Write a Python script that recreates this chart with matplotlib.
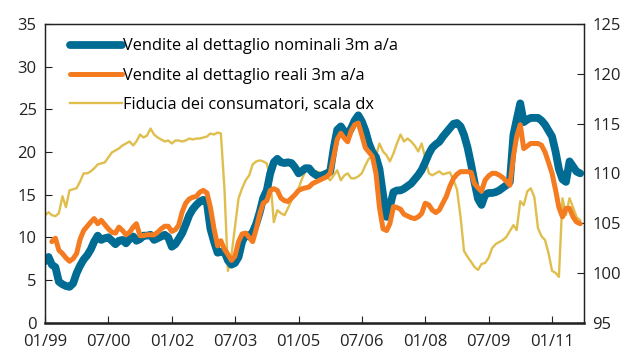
import numpy as np
import pandas as pd
import matplotlib
matplotlib.use("Agg")
import matplotlib.pyplot as plt
import matplotlib.dates as mdates

plt.rcParams['font.family'] = ['Open Sans', 'DejaVu Sans']

# Monthly series, January 1999 - September 2011
dates = pd.date_range("1999-01-01", periods=153, freq="MS")

nominal = [
    7.2, 7.7, 6.8, 6.5, 4.8, 4.5, 4.3, 4.2, 4.6, 5.8, 6.7, 7.4, 7.9, 8.6, 9.5, 10.2,
    9.7, 9.9, 10.0, 9.6, 9.2, 9.6, 9.7, 9.3, 9.8, 10.1, 9.6, 9.8, 10.2, 10.2, 10.3, 9.7,
    9.9, 10.1, 10.3, 10.0, 8.9, 9.2, 9.8, 10.5, 11.5, 12.6, 13.3, 13.8, 14.2, 14.4, 14.0, 11.0,
    9.5, 8.2, 8.3, 8.3, 7.3, 6.8, 7.0, 7.7, 9.5, 10.3, 10.1, 10.6, 11.6, 13.0, 14.6, 15.5,
    17.5, 18.8, 19.2, 18.8, 18.7, 18.8, 18.7, 18.2, 17.5, 17.8, 18.1, 18.1, 17.6, 17.3, 17.1, 17.3,
    17.5, 17.7, 20.5, 22.6, 23.0, 22.4, 22.0, 22.8, 23.7, 24.3, 23.6, 22.5, 21.0, 20.0, 19.4, 18.0,
    15.0, 12.4, 13.6, 15.3, 15.5, 15.5, 15.7, 16.0, 16.3, 16.8, 17.3, 17.9, 18.8, 19.8, 20.5, 20.9,
    21.2, 21.8, 22.3, 22.8, 23.3, 23.4, 23.0, 22.0, 20.5, 18.5, 16.5, 14.5, 13.8, 15.0, 15.2, 15.2,
    15.3, 15.5, 15.8, 16.1, 16.5, 22.0, 23.8, 25.7, 23.5, 23.8, 24.0, 24.0, 24.0, 23.7, 23.2, 22.5,
    21.8, 20.0, 18.0, 16.8, 16.5, 18.9, 18.3, 17.7, 17.5,
]

real = [
    np.nan, np.nan, 9.5, 9.9, 8.5, 8.1, 7.6, 7.2, 7.5, 8.1, 9.8, 10.8, 11.3, 11.8, 12.2, 11.6,
    12.0, 11.5, 11.0, 10.6, 10.5, 11.2, 10.8, 10.3, 10.6, 11.2, 11.6, 10.2, 10.2, 10.3, 10.3, 10.3,
    10.6, 11.0, 11.3, 11.3, 10.7, 10.9, 11.4, 13.0, 14.0, 14.5, 14.7, 14.8, 15.3, 15.5, 15.2, 13.5,
    11.0, 9.0, 9.6, 8.6, 8.0, 7.3, 7.8, 9.5, 10.4, 10.5, 10.0, 9.5, 11.0, 12.8, 14.0, 14.3,
    15.5, 15.7, 15.5, 14.6, 14.3, 14.2, 14.6, 15.0, 15.5, 15.7, 15.8, 15.9, 16.3, 16.5, 16.7, 16.9,
    17.1, 17.5, 19.5, 21.5, 22.2, 21.6, 21.2, 22.5, 23.2, 23.4, 22.0, 20.5, 20.0, 19.5, 17.5, 13.5,
    11.0, 10.8, 11.6, 13.6, 13.5, 13.3, 12.7, 12.5, 12.3, 12.2, 12.4, 12.8, 14.0, 13.8, 13.2, 12.9,
    13.2, 14.0, 14.8, 16.0, 16.9, 17.4, 17.7, 17.7, 17.7, 17.6, 16.3, 15.8, 15.4, 16.7, 17.2, 17.5,
    17.5, 17.3, 17.0, 16.6, 16.1, 19.5, 21.8, 23.2, 20.4, 20.7, 21.0, 21.0, 21.0, 20.8, 20.0, 18.8,
    17.5, 15.5, 13.5, 12.4, 13.4, 13.4, 12.4, 11.8, 11.6,
]

confidence = [
    105.8, 106.1, 105.8, 105.7, 106.0, 107.7, 106.6, 108.3, 108.4, 108.5, 109.2, 110.0, 110.0, 110.2, 110.5, 110.9,
    111.0, 111.1, 111.6, 112.1, 112.3, 112.5, 112.8, 113.0, 113.2, 112.8, 113.2, 113.9, 113.6, 113.8, 114.5, 113.9,
    113.6, 113.4, 113.2, 113.3, 113.0, 113.3, 113.3, 113.2, 113.3, 113.5, 113.4, 113.5, 113.5, 113.6, 113.7, 114.0,
    113.9, 114.1, 114.0, 108.5, 100.2, 101.8, 104.6, 107.5, 108.5, 109.3, 109.8, 110.9, 111.2, 111.3, 111.2, 111.0,
    109.5, 105.1, 106.3, 106.0, 105.8, 106.5, 107.3, 107.8, 108.5, 109.5, 110.2, 110.5, 110.0, 110.2, 110.1, 110.0,
    109.7, 109.3, 109.8, 110.3, 109.3, 109.8, 110.0, 109.5, 109.5, 109.7, 110.0, 110.8, 111.5, 111.6, 111.8, 113.0,
    112.2, 111.8, 111.2, 112.0, 113.0, 113.9, 113.2, 113.5, 113.2, 112.8, 112.2, 113.0, 111.5, 110.0, 109.8, 110.0,
    110.2, 109.9, 110.0, 110.1, 109.3, 108.4, 105.6, 102.2, 101.6, 101.1, 100.6, 100.3, 100.9, 101.0, 101.5, 102.5,
    102.9, 103.1, 103.3, 103.6, 104.2, 104.8, 104.3, 107.2, 106.8, 108.2, 108.5, 107.6, 104.5, 103.7, 103.3, 102.0,
    100.2, 100.0, 99.6, 107.5, 105.8, 107.5, 106.6, 105.6, 105.3,
]

series_labels = [
    "Vendite al dettaglio nominali 3m a/a",
    "Vendite al dettaglio reali 3m a/a",
    "Fiducia dei consumatori, scala dx",
]

left_ticks = [0, 5, 10, 15, 20, 25, 30, 35]
right_ticks = [95, 100, 105, 110, 115, 120, 125]
x_tick_dates = pd.date_range("1999-01-01", "2011-01-01", freq="18MS")

teal = "#006B93"
orange = "#F47B20"
gold = "#E0BE4E"

fig = plt.figure(figsize=(6.3, 3.55), dpi=100)
ax = fig.add_axes([45 / 630, 1 - 322.7 / 355, 539 / 630, 298.7 / 355])
ax2 = ax.twinx()

ax.plot(dates, nominal, color=teal, lw=5.6, solid_capstyle="round",
        solid_joinstyle="round", label=series_labels[0], zorder=2)
ax.plot(dates, real, color=orange, lw=3.6, solid_capstyle="round",
        solid_joinstyle="round", label=series_labels[1], zorder=3)
ax2.plot(dates, confidence, color=gold, lw=1.7, label=series_labels[2])

# Draw the thick lines above the thin right-axis line
ax.set_zorder(ax2.get_zorder() + 1)
ax.patch.set_visible(False)

ax.set_ylim(0, 35)
ax2.set_ylim(95, 125)
ax.set_yticks(left_ticks)
ax2.set_yticks(right_ticks)
ax.set_xlim(pd.Timestamp("1999-01-01"), pd.Timestamp("2011-10-04"))
ax.set_xticks(x_tick_dates)
ax.xaxis.set_major_formatter(mdates.DateFormatter("%m/%y"))

for a in (ax, ax2):
    a.tick_params(direction="in", length=5, width=0.8, labelsize=12,
                  colors="#222222", pad=6)
    for s in a.spines.values():
        s.set_color("#222222")
        s.set_linewidth(0.9)
ax.spines["bottom"].set_linewidth(1.8)
ax.tick_params(axis="x", pad=8)

handles = [ax.get_lines()[0], ax.get_lines()[1], ax2.get_lines()[0]]
ax.legend(handles, series_labels, loc="upper left", frameon=False,
          fontsize=11.8, handlelength=3.2, handletextpad=0.05,
          labelspacing=0.8, borderaxespad=0.3,
          bbox_to_anchor=(0.025, 0.99))

fig.savefig("out.png", dpi=100)
